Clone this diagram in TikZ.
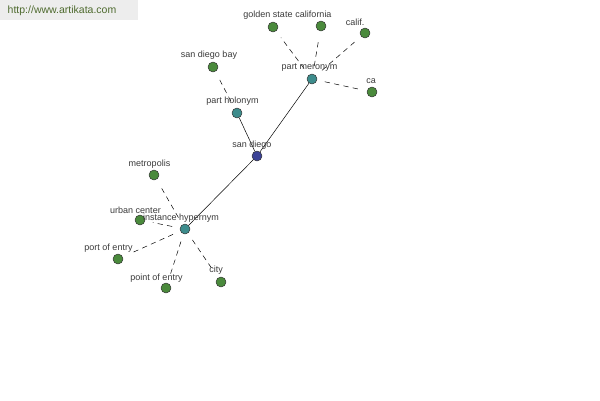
\documentclass[tikz,border=0pt]{standalone}
\usepackage{fontspec}
\setmainfont{Liberation Sans}
\usepackage{xcolor}
\usetikzlibrary{arrows.meta}
\definecolor{leafgreen}{HTML}{4A8A3C}
\definecolor{relteal}{HTML}{3D8C8C}
\definecolor{rootblue}{HTML}{3C4396}
\definecolor{labelgray}{HTML}{3A3A3A}
\definecolor{markgreen}{HTML}{4E6A2E}
\definecolor{markback}{HTML}{EDEDED}
\tikzset{
  every picture/.style={line join=round, line cap=round, >=Stealth},
  dot/.style={circle, draw=black!80, line width=0.5pt, inner sep=0pt, minimum size=10pt},
  leaf/.style={dot, fill=leafgreen},
  rel/.style={dot, fill=relteal},
  root/.style={dot, fill=rootblue},
  lbl/.style={font=\fontsize{9}{10}\selectfont, text=labelgray, inner sep=0pt},
  solidlink/.style={line width=0.5pt},
  dashlink/.style={line width=0.5pt, dash pattern=on 5pt off 4.5pt, shorten <=8pt, shorten >=8pt},
}
\begin{document}
\begin{tikzpicture}[x=1pt,y=-1pt]
\useasboundingbox (0,0) rectangle (600,400);
% watermark
\fill[markback] (0,0) rectangle (138,20);
\node[font=\fontsize{10.5}{12}\selectfont, text=markgreen, inner sep=0pt] (mark) at (62,11) {http://www.artikata.com};
% dots
\node[root] (sd) at (257,156) {};
\node[rel] (hol) at (237,113) {};
\node[rel] (mer) at (312,79) {};
\node[rel] (hyp) at (185,229) {};
\node[leaf] (bay) at (213,67) {};
\node[leaf] (gold) at (273,27) {};
\node[leaf] (cal) at (321,26) {};
\node[leaf] (calif) at (365,33) {};
\node[leaf] (ca) at (372,92) {};
\node[leaf] (metro) at (154,175) {};
\node[leaf] (urban) at (140,220) {};
\node[leaf] (port) at (118,259) {};
\node[leaf] (point) at (166,288) {};
\node[leaf] (city) at (221,282) {};
% links
\draw[solidlink] (sd) -- (hol);
\draw[solidlink] (sd) -- (mer);
\draw[solidlink] (sd) -- (hyp);
\draw[dashlink] (hol) -- (bay);
\draw[dashlink] (mer) -- (gold);
\draw[dashlink] (mer) -- (cal);
\draw[dashlink] (mer) -- (calif);
\draw[dashlink] (mer) -- (ca);
\draw[dashlink] (hyp) -- (metro);
\draw[dashlink] (hyp) -- (urban);
\draw[dashlink] (hyp) -- (port);
\draw[dashlink] (hyp) -- (point);
\draw[dashlink] (hyp) -- (city);
% labels
\node[lbl] (sdl) at (252,145) {san diego};
\node[lbl] (holl) at (232.5,101) {part holonym};
\node[lbl] (merl) at (309.5,68) {part meronym};
\node[lbl] (hypl) at (181,218) {instance hypernym};
\node[lbl] (bayl) at (209,55) {san diego bay};
\node[lbl] (goldl) at (268,15) {golden state};
\node[lbl] (call) at (313.5,14) {california};
\node[lbl] (califl) at (355,22) {calif.};
\node[lbl] (cal2) at (371,81) {ca};
\node[lbl] (metrol) at (149.5,164) {metropolis};
\node[lbl] (urbanl) at (135.5,210) {urban center};
\node[lbl] (portl) at (108.5,248) {port of entry};
\node[lbl] (pointl) at (156.5,278) {point of entry};
\node[lbl] (cityl) at (216,270) {city};
\end{tikzpicture}
\end{document}
